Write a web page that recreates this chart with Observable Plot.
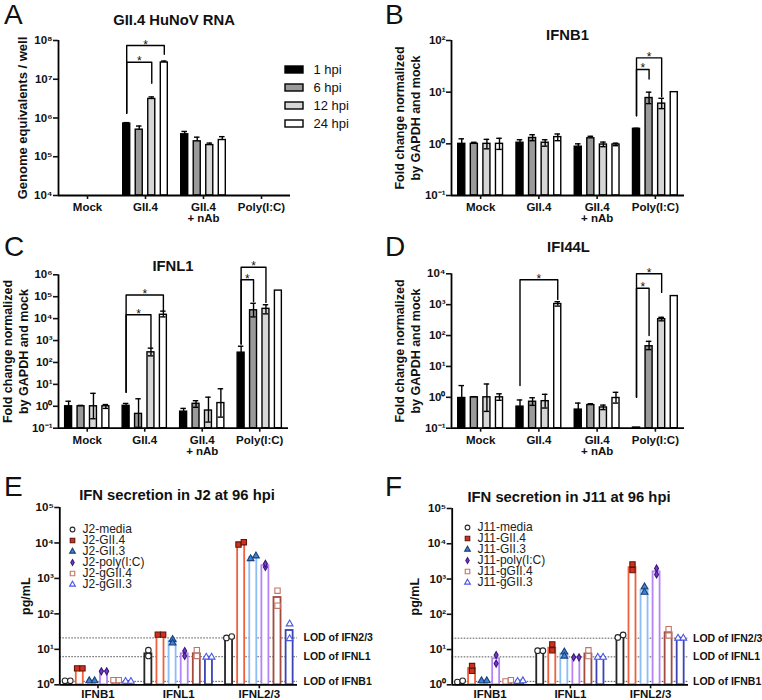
<!DOCTYPE html>
<html><head><meta charset="utf-8">
<script src="https://cdn.jsdelivr.net/npm/d3@7"></script>
<script src="https://cdn.jsdelivr.net/npm/@observablehq/plot@0.6"></script>
<style>
body{margin:0;background:#fff;}
#root{position:relative;width:762px;height:700px;overflow:hidden;font-family:"Liberation Sans",Arial,sans-serif;color:#111;}
.abs{position:absolute;}
.letter{font-size:28px;line-height:28px;font-weight:normal;}
.title{font-size:14.8px;line-height:14.8px;font-weight:bold;transform:translateX(-50%);white-space:nowrap;}
svg{position:absolute;}
</style></head><body><div id="root"></div>
<script>
// ---------------- DATA ----------------
const groups = ["Mock", "GII.4", "GII.4\n+ nAb", "Poly(I:C)"];
const hpiLabels = ["1 hpi", "6 hpi", "12 hpi", "24 hpi"];

// A: GII.4 HuNoV RNA (genome equivalents / well); rows = groups, cols = hpi
const rnaMean = [[null,null,null,null],[7.2e5,5.0e5,3.1e6,2.7e7],[3.8e5,2.5e5,2.0e5,2.7e5],[null,null,null,null]];
const rnaHi   = [[null,null,null,null],[7.6e5,6.2e5,3.5e6,2.95e7],[4.5e5,3.2e5,2.25e5,3.3e5],[null,null,null,null]];
const rnaSig  = [{g:1,from:0,to:3,top:7.4e7,left:1.33e6,right:4.4e7},{g:1,from:0,to:2,top:2.75e7,left:1.33e6,right:7.9e6}];

// B: IFNB1 fold change
const ifnb1Mean = [[1.0,1.0,1.0,1.0],[1.05,1.3,1.05,1.35],[0.88,1.28,0.97,0.97],[1.95,7.7,6.0,10]];
const ifnb1Hi   = [[1.25,1.07,1.22,1.28],[1.2,1.5,1.2,1.55],[1.0,1.4,1.08,1.03],[2.0,10,7.6,null]];
const ifnb1Lo   = [[null,null,0.8,0.78],[null,1.15,0.9,1.15],[null,null,0.88,0.92],[null,6.0,4.8,null]];
const ifnb1Sig  = [{g:3,from:0,to:2,top:46,left:3.5,right:8.2},{g:3,from:0,to:1,top:27.5,left:3.5,right:18}];

// C: IFNL1 fold change
const ifnl1Mean = [[1.0,1.0,1.0,1.0],[1.05,0.45,2.9e2,1.5e4],[0.57,1.3,0.64,1.4],[2.8e2,2.4e4,2.8e4,1.9e5]];
const ifnl1Hi   = [[1.7,1.1,3.9,1.2],[1.35,2.2,4.5e2,2.2e4],[0.8,1.8,2.6,6.3],[5.5e2,5e4,4.3e4,null]];
const ifnl1Lo   = [[null,null,0.27,0.8],[null,0.11,2.0e2,1.2e4],[null,0.9,0.19,0.32],[null,1.2e4,1.65e4,null]];
const ifnl1Sig  = [{g:1,from:0,to:3,top:1.2e5,left:4.4,right:2.35e4},{g:1,from:0,to:2,top:1.5e4,left:4.4,right:4.9e2},
                   {g:3,from:0,to:2,top:2.2e6,left:7e2,right:5.5e4},{g:3,from:0,to:1,top:5.9e5,left:7e2,right:6e4}];

// D: IFI44L fold change
const ifi44lMean = [[0.95,1.0,1.0,1.0],[0.5,0.72,0.75,1.05e3],[0.4,0.56,0.47,0.95],[0.105,45,3.4e2,1.9e3]];
const ifi44lHi   = [[2.4,1.05,2.7,1.3],[0.82,0.97,1.25,1.25e3],[0.65,0.62,0.56,1.45],[null,65,3.9e2,null]];
const ifi44lLo   = [[null,null,0.35,0.8],[null,0.55,0.45,0.9e3],[null,null,0.4,0.65],[null,35,3.0e2,null]];
const ifi44lSig  = [{g:1,from:0,to:3,top:6.4e3,left:2.4,right:1.48e3},{g:3,from:0,to:2,top:1e4,left:1.0,right:2.5e3},{g:3,from:0,to:1,top:3.4e3,left:1.0,right:100}];

// E / F: IFN secretion (pg/mL) at 96 hpi
const ifnCats = ["IFNB1", "IFNL1", "IFNL2/3"];
const j2Series  = ["J2-media","J2-GII.4","J2-GII.3","J2-poly(I:C)","J2-gGII.4","J2-gGII.3"];
const j11Series = ["J11-media","J11-GII.4","J11-GII.3","J11-poly(I:C)","J11-gGII.4","J11-gGII.3"];
const j2Mean = [[1.3,2.9,1.3,2.4,1.35,1.25],[7.5,26,17,7.5,7.5,6.0],[22,9.6e3,3.9e3,2.3e3,2.9e2,34]];
const j2Reps = [[[1.3,1.3],[2.9,2.9],[1.3,1.3],[2.4,2.4],[1.35,1.35],[1.25,1.25]],
                [[9.5,6.5],[26,26],[19,15],[9,6.5],[9.5,6.5],[6,6]],
                [[21,23],[9e3,1.05e4],[3.6e3,4.3e3],[2.1e3,2.6e3],[4.5e2,1.7e2],[52,20]]];
const j11Mean = [[1.25,2.9,1.3,5.5,1.3,1.28],[9.3,11,7.5,6.0,7.5,6.0],[23,2.1e3,4.8e2,1.6e3,30,21]];
const j11Reps = [[[1.2,1.3],[3.4,2.5],[1.3,1.3],[7,4],[1.25,1.35],[1.25,1.3]],
                 [[9.3,9.3],[14,9.5],[8.5,6.5],[6,6],[9.5,6.5],[6,6]],
                 [[22,26],[2.6e3,1.8e3],[6e2,4.2e2],[2.0e3,1.35e3],[38,25],[21,21]]];
const lodValues = [21, 6.2, 1.25];
const lodLabels = ["LOD of IFN2/3", "LOD of IFNL1", "LOD of IFNB1"];

// ---------------- STYLE ----------------
const hpiFill = ["#000000", "#9a9a9a", "#d6d6d6", "#ffffff"];
const barStroke   = ["#262626", "#f0603f", "#8cbdf5", "#b585f5", "#a24b3e", "#3b44b5"];
const pointFill   = ["#ffffff", "#d3301c", "#3a86e6", "#7637d9", "#ffffff", "#ffffff"];
const pointStroke = ["#262626", "#5e160c", "#1d3f73", "#3a1873", "#c27364", "#4a57e6"];
const symbols     = ["circle", "square", "triangle", "diamond", "square", "triangle"];
const symR        = [2.8, 3.0, 2.5, 2.1, 3.0, 2.5];
const FONT = '"Liberation Sans", Arial, sans-serif';
const root = document.getElementById("root");

const supMap = {"-":"⁻","0":"⁰","1":"¹","2":"²","3":"³","4":"⁴","5":"⁵","6":"⁶","7":"⁷","8":"⁸","9":"⁹"};
const sup = v => "10" + String(Math.round(Math.log10(v))).split("").map(c => supMap[c]).join("");
const decades = (a, b) => d3.range(Math.round(Math.log10(a)), Math.round(Math.log10(b)) + 1).map(e => Math.pow(10, e));

function place(svg, box) {
  svg.style.left = box.left + "px";
  svg.style.top = box.top + "px";
  root.appendChild(svg);
}
function margins(box, f) {
  return {width: box.w, height: box.h,
    marginLeft: f.x0 - box.left, marginRight: box.left + box.w - f.x1,
    marginTop: f.y0 - box.top, marginBottom: box.top + box.h - f.y1};
}
function addText(cls, txt, left, top) {
  const d = document.createElement("div");
  d.className = "abs " + cls; d.textContent = txt;
  d.style.left = left + "px"; d.style.top = top + "px";
  root.appendChild(d);
}

// ------------- bar panels (A-D) -------------
const G4 = 4.63; // group step, in bar steps
function barPanel(p) {
  const rows = [];
  groups.forEach((g, gi) => hpiLabels.forEach((h, hi) => {
    const v = p.mean[gi][hi];
    if (v == null) return;
    rows.push({pos: gi * G4 + hi, v, h, hiErr: p.hi[gi][hi], loErr: p.lo ? p.lo[gi][hi] : null});
  }));
  const errs = rows.filter(d => d.hiErr != null);
  const los = rows.filter(d => d.loErr != null);
  const br = p.sig.map((b, i) => ({...b, i, x0: b.g * G4 + b.from, x1: b.g * G4 + b.to}));
  const brPts = br.flatMap(b => [{i: b.i, x: b.x0, y: b.left}, {i: b.i, x: b.x0, y: b.top}, {i: b.i, x: b.x1, y: b.top}, {i: b.i, x: b.x1, y: b.right}]);
  const ymin = p.domain[0];
  const xmin = 1.5 - G4 / 2;
  const svg = Plot.plot({
    ...margins(p.box, p.frame),
    style: {background: "transparent", fontFamily: FONT, fontSize: "11.5px", fontWeight: "bold", color: "#111", overflow: "visible"},
    x: {type: "linear", domain: [xmin, 1.5 + 3.5 * G4]},
    y: {type: "log", domain: p.domain},
    color: {domain: hpiLabels, range: hpiFill},
    marks: [
      Plot.rectY(rows, {x1: d => d.pos - 0.28, x2: d => d.pos + 0.28, y1: ymin, y2: "v", fill: "h", stroke: "#000", strokeWidth: 1.4}),
      Plot.ruleX(errs, {x: "pos", y1: d => d.loErr ?? d.v, y2: "hiErr", stroke: "#000", strokeWidth: 1.4}),
      Plot.ruleY(errs, {y: "hiErr", x1: d => d.pos - 0.22, x2: d => d.pos + 0.22, stroke: "#000", strokeWidth: 1.4}),
      Plot.ruleY(los, {y: "loErr", x1: d => d.pos - 0.22, x2: d => d.pos + 0.22, stroke: "#000", strokeWidth: 1.4}),
      Plot.line(brPts, {x: "x", y: "y", z: "i", stroke: "#000", strokeWidth: 1.4}),
      Plot.text(br, {x: d => (d.x0 + d.x1) / 2, y: "top", text: () => "*", fontSize: 12, fontWeight: "normal", lineAnchor: "bottom", dy: 3}),
      Plot.ruleX([xmin], {stroke: "#000", strokeWidth: 1.8}),
      Plot.ruleY([ymin], {stroke: "#000", strokeWidth: 1.8}),
      Plot.axisY({ticks: decades(...p.domain), tickFormat: sup, tickSize: 5, tickPadding: 1, strokeWidth: 1.6, label: null, fontSize: 11.5}),
      Plot.axisX({ticks: groups.map((g, gi) => gi * G4 + 1.5), tickFormat: d => groups[Math.round((d - 1.5) / G4)], tickSize: 4, tickPadding: 4, strokeWidth: 1.6, label: null, lineHeight: 0.95, fontSize: 11.5}),
      Plot.text([p.ylabel], {text: d => d, frameAnchor: "left", textAnchor: "middle", lineAnchor: "middle", rotate: -90, dx: p.ylabelDx, fontSize: p.ylabelSize, lineHeight: 1.3})
    ]
  });
  place(svg, p.box);
}

const ylabFC = "Fold change normalized\nby GAPDH and mock";
barPanel({mean: rnaMean, hi: rnaHi, lo: null, sig: rnaSig, domain: [1e4, 1e8],
  box: {left: 0, top: 0, w: 381, h: 232}, frame: {x0: 58, x1: 290, y0: 40, y1: 195},
  ylabel: "Genome equivalents / well", ylabelDx: -36.5, ylabelSize: 13});
barPanel({mean: ifnb1Mean, hi: ifnb1Hi, lo: ifnb1Lo, sig: ifnb1Sig, domain: [1e-1, 1e2],
  box: {left: 381, top: 0, w: 381, h: 232}, frame: {x0: 451, x1: 684, y0: 40, y1: 195},
  ylabel: ylabFC, ylabelDx: -45, ylabelSize: 12.5});
barPanel({mean: ifnl1Mean, hi: ifnl1Hi, lo: ifnl1Lo, sig: ifnl1Sig, domain: [1e-1, 1e6],
  box: {left: 0, top: 232, w: 381, h: 236}, frame: {x0: 58, x1: 288, y0: 274.3, y1: 427.7},
  ylabel: ylabFC, ylabelDx: -44, ylabelSize: 12.5});
barPanel({mean: ifi44lMean, hi: ifi44lHi, lo: ifi44lLo, sig: ifi44lSig, domain: [1e-1, 1e4],
  box: {left: 381, top: 232, w: 381, h: 236}, frame: {x0: 451, x1: 684, y0: 273.3, y1: 427.7},
  ylabel: ylabFC, ylabelDx: -45, ylabelSize: 12.5});

// legend for A
{
  const svg = Plot.plot({
    width: 80, height: 87, marginLeft: 0, marginRight: 62, marginTop: 0, marginBottom: 0,
    style: {background: "transparent", fontFamily: FONT, fontSize: "13px", color: "#111", overflow: "visible"},
    x: {domain: [0, 1], axis: null}, y: {type: "band", domain: hpiLabels, padding: 0.585, axis: null},
    color: {domain: hpiLabels, range: hpiFill},
    marks: [
      Plot.barX(hpiLabels, {y: d => d, x1: 0, x2: 1, fill: d => d, stroke: "#000", strokeWidth: 1.4}),
      Plot.text(hpiLabels, {y: d => d, text: d => d, frameAnchor: "right", textAnchor: "start", dx: 10})
    ]
  });
  place(svg, {left: 285, top: 53});
}

// ------------- secretion panels (E, F) -------------
const G6 = 6.66;
function secretionPanel(p) {
  const bars = [], pts = [];
  ifnCats.forEach((c, ci) => p.series.forEach((s, si) => {
    const pos = ci * G6 + si;
    bars.push({pos, si, v: p.mean[ci][si]});
    const r = p.reps[ci][si];
    const close = Math.abs(Math.log10(r[0] / r[1])) < 0.08;
    r.forEach((v, k) => pts.push({pos: pos + (close ? (k ? 0.22 : -0.22) : 0), si, v}));
  }));
  const xmin = 2.5 - 3.15, xmax = 2 * G6 + 2.5 + 3.15;
  const lods = lodValues.map((v, i) => ({v, label: lodLabels[i]}));
  const svg = Plot.plot({
    ...margins(p.box, p.frame),
    style: {background: "transparent", fontFamily: FONT, fontSize: "11.5px", fontWeight: "bold", color: "#111", overflow: "visible"},
    x: {type: "linear", domain: [xmin, xmax]},
    y: {type: "log", domain: [1, 1e5]},
    marks: [
      Plot.ruleY(lods, {y: "v", stroke: "#444", strokeWidth: 0.9, strokeDasharray: "1.6,1.4"}),
      Plot.rectY(bars, {x1: d => d.pos - 0.29, x2: d => d.pos + 0.29, y1: 1, y2: "v", fill: "white", stroke: d => barStroke[d.si], strokeWidth: 1.8}),
      ...symbols.map((sym, si) => Plot.dot(pts.filter(d => d.si === si), {x: "pos", y: "v", symbol: sym, r: symR[si], fill: pointFill[si], stroke: pointStroke[si], strokeWidth: 1.1})),
      Plot.text(lods, {y: "v", text: "label", frameAnchor: "right", textAnchor: "start", dx: p.lodDx, fontSize: 10.5}),
      Plot.ruleX([xmin], {stroke: "#000", strokeWidth: 1.8}),
      Plot.ruleY([1], {stroke: "#000", strokeWidth: 1.8}),
      Plot.axisY({ticks: decades(1, 1e5), tickFormat: sup, tickSize: 5, tickPadding: 1, strokeWidth: 1.6, label: null}),
      Plot.axisX({ticks: ifnCats.map((c, ci) => ci * G6 + 2.5), tickFormat: d => ifnCats[Math.round((d - 2.5) / G6)], tickSize: 4, tickPadding: 1, strokeWidth: 1.6, label: null}),
      Plot.text(["pg/mL"], {text: d => d, frameAnchor: "left", textAnchor: "middle", rotate: -90, dx: p.ylabelDx, fontSize: 12.5})
    ]
  });
  place(svg, p.box);
  // legend
  const n = p.series.length;
  const leg = Plot.plot({
    width: 110, height: n * 11.4, margin: 0,
    style: {background: "transparent", fontFamily: FONT, fontSize: "12px", color: "#222", overflow: "visible"},
    x: {axis: null}, y: {type: "band", domain: p.series, axis: null},
    marks: [
      ...p.series.map((s, si) => Plot.dot([s], {y: d => d, frameAnchor: "left", dx: 4, symbol: symbols[si], r: symR[si] * 0.85, fill: pointFill[si], stroke: pointStroke[si], strokeWidth: 1.1})),
      Plot.text(p.series, {y: d => d, text: d => d, frameAnchor: "left", textAnchor: "start", dx: 14})
    ]
  });
  place(leg, p.legendAt);
}
secretionPanel({series: j2Series, mean: j2Mean, reps: j2Reps,
  box: {left: 0, top: 468, w: 381, h: 232}, frame: {x0: 59.3, x1: 297, y0: 507, y1: 684.3},
  ylabelDx: -34, lodDx: 6, legendAt: {left: 67.7, top: 522}});
secretionPanel({series: j11Series, mean: j11Mean, reps: j11Reps,
  box: {left: 381, top: 468, w: 381, h: 232}, frame: {x0: 451.7, x1: 688, y0: 508, y1: 684.3},
  ylabelDx: -37, lodDx: 4.5, legendAt: {left: 462.7, top: 520}});

// ------------- letters and titles -------------
[["A", 4, 1], ["B", 385, 1], ["C", 4, 233], ["D", 385, 233], ["E", 4, 473], ["F", 385, 473]]
  .forEach(([t, x, y]) => addText("letter", t, x, y));
[["GII.4 HuNoV RNA", 174, 12.5], ["IFNB1", 567.5, 28.2], ["IFNL1", 173, 258.5], ["IFI44L", 568.5, 239.5],
 ["IFN secretion in J2 at 96 hpi", 177, 487.5], ["IFN secretion in J11 at 96 hpi", 569, 490]]
  .forEach(([t, x, y]) => addText("title", t, x, y));
</script></body></html>
